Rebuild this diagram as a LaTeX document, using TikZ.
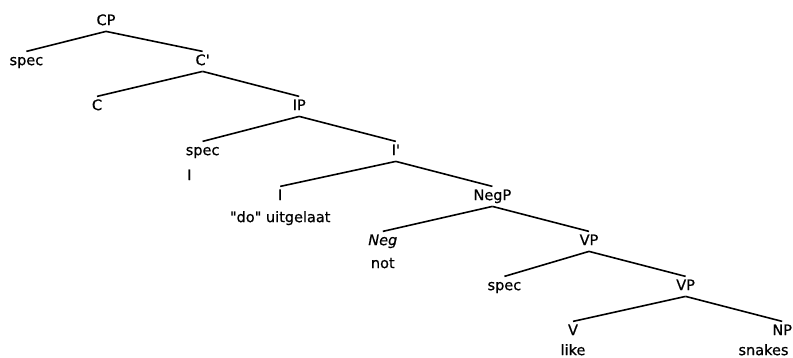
\documentclass[tikz,border=0pt]{standalone}
\usepackage{fontspec}
\setmainfont{DejaVu Sans}[FakeBold=0.7]
\usetikzlibrary{positioning}
\tikzset{
  %category labels
  catNode/.style = {inner sep=2.5pt, text height=11pt, text depth=3.6pt,
    font=\fontsize{14.5}{17}\selectfont},
  %words under a head
  wordNode/.style = {catNode, inner sep=0pt, text depth=0pt},
  branch/.style = {line width=1.6pt}
}
\begin{document}
\begin{tikzpicture}[level distance=45pt, sibling distance=193.2pt,
  level 1/.style={level distance=40pt}, level 2/.style={level distance=45pt},
  every node/.style={catNode},
  edge from parent/.style={draw, branch},
  edge from parent path={(\tikzparentnode.south) -- (\tikzchildnode.north)}]
\useasboundingbox (0,0) rectangle (793pt,-358pt);
\node (cp) at (106pt,-21.4pt) {CP}
  child[xshift=17pt]{ node (specC) {spec} }
  child{ node (cbar) {C\textquotesingle}
    child[xshift=-9pt]{ node (c) {C} }
    child{ node (ip) {IP}
      child{ node (specI) {spec} }
      child{ node (ibar) {I\textquotesingle}
        child[xshift=-19pt]{ node (i) {I} }
        child{ node (negp) {NegP}
          child[xshift=-13pt]{ node (neg) {\itshape Neg} }
          child{ node (vp) {VP}
            child[xshift=12pt]{ node (specV) {spec} }
            child{ node (vbar) {VP}
              child[xshift=-16pt]{ node (v) {V} }
              child{ node (np) {NP} }
            }
          }
        }
      }
    }
  };
% words under the heads
\node[wordNode, below=7.5pt of specI.south west, anchor=north west, xshift=4pt] (specIword) {I};
\node[wordNode, below=4.5pt of i] (doword) {\textquotedbl do\textquotedbl{} uitgelaat};
\node[wordNode, below=5.5pt of neg] (notword) {not};
\node[wordNode, below=2.5pt of v] (likeword) {like};
\node[wordNode, below=2.5pt of np.south east, anchor=north east, xshift=-6pt] (snakesword) {snakes};
\end{tikzpicture}
\end{document}
